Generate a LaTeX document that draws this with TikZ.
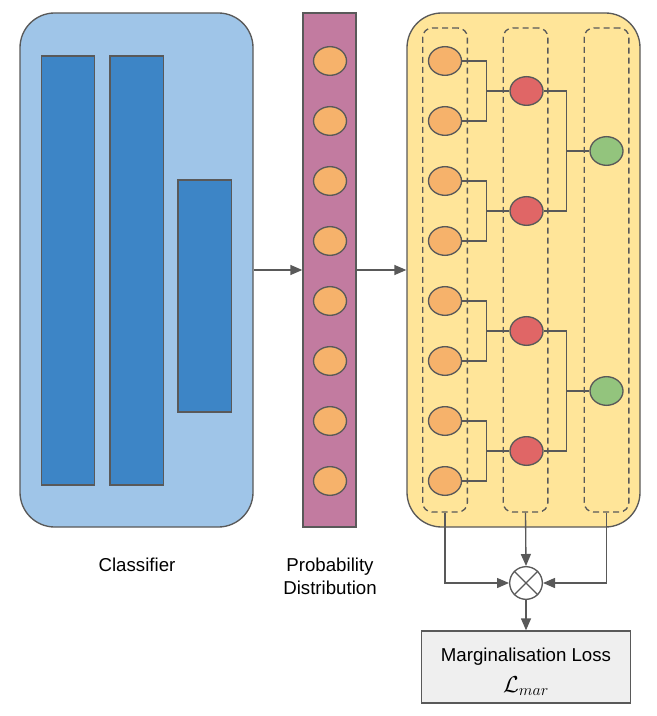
\documentclass[tikz,border=0pt]{standalone}
\usepackage[no-math]{fontspec}
\setmainfont{Liberation Sans}
\usetikzlibrary{shapes.geometric,arrows.meta,calc}
\definecolor{ln}{HTML}{595959}
\definecolor{lblue}{HTML}{9FC5E8}
\definecolor{dblue}{HTML}{3D85C6}
\definecolor{mag}{HTML}{C27BA0}
\definecolor{orng}{HTML}{F6B26B}
\definecolor{redc}{HTML}{E06666}
\definecolor{grnc}{HTML}{93C47D}
\definecolor{ylw}{HTML}{FFE599}
\definecolor{gry}{HTML}{EFEFEF}
\tikzset{
  box/.style={draw=ln, line width=1pt, rectangle, inner sep=0pt},
  bigbox/.style={box, rounded corners=26pt, minimum width=174.75pt, minimum height=385.5pt},
  bar/.style={box, fill=dblue, minimum width=40pt},
  dcol/.style={draw=ln, line width=1pt, dash pattern=on 4.5pt off 3pt, rounded corners=7pt, minimum width=33.5pt, minimum height=363pt, inner sep=0pt},
  ball/.style={ellipse, draw=ln, line width=1pt, minimum width=24.75pt, minimum height=21.5pt, inner sep=0pt},
  ob/.style={ball, fill=orng},
  rb/.style={ball, fill=redc},
  gb/.style={ball, fill=grnc},
  wire/.style={draw=ln, line width=1pt},
  arr/.style={wire, -{Triangle[length=9pt,width=7.5pt]}},
  lbl/.style={font=\fontsize{14}{17}\selectfont, align=center, inner sep=0pt},
}
\begin{document}
\begin{tikzpicture}[x=0.75pt,y=-0.75pt]
\useasboundingbox (0,0) rectangle (656,716);
% classifier
\node[bigbox, fill=lblue] (cls) at (136.5,270) {};
\node[bar, minimum height=321.75pt] (b1) at (68,270.5) {};
\node[bar, minimum height=321.75pt] (b2) at (136.5,270.5) {};
\node[bar, minimum height=174pt] (b3) at (204.5,296) {};
% probability
\node[box, fill=mag, minimum width=39.75pt, minimum height=385.5pt] (pd) at (329.5,270) {};
\foreach \i/\y in {1/61,2/121,3/181,4/241,5/301,6/361,7/421,8/481}
  \node[ob] (p\i) at (330,\y) {};
% yellow
\node[bigbox, fill=ylw] (yb) at (523.5,270) {};
\node[dcol] (c1) at (445,270) {};
\node[dcol] (c2) at (525.5,270) {};
\node[dcol] (c3) at (606.5,270) {};
\foreach \i/\y in {1/61,2/121,3/181,4/241,5/301,6/361,7/421,8/481}
  \node[ob] (o\i) at (445,\y) {};
\foreach \i/\y in {1/91,2/211,3/331,4/451}
  \node[rb] (r\i) at (526.5,\y) {};
\node[gb] (g1) at (606.5,151) {};
\node[gb] (g2) at (606.5,391) {};
% tree wires
\foreach \a/\b/\r in {1/2/1,3/4/2,5/6/3,7/8/4}{
  \draw[wire] (o\a.east) -- ++(24,0) |- (r\r.west);
  \draw[wire] (o\b.east) -- ++(24,0) |- (r\r.west);
}
\foreach \a/\b/\g in {1/2/1,3/4/2}{
  \draw[wire] (r\a.east) -- ++(23,0) |- (g\g.west);
  \draw[wire] (r\b.east) -- ++(23,0) |- (g\g.west);
}
% arrows between blocks
\draw[arr] (cls.east |- 0,270) -- (pd.west |- 0,270);
\draw[arr] (pd.east |- 0,270) -- (yb.west |- 0,270);
% product node
\node[circle, draw=ln, line width=1pt, fill=white, minimum size=24.5pt, inner sep=0pt] (x) at (526,583) {};
\draw[wire] (x.north west) -- (x.south east);
\draw[wire] (x.north east) -- (x.south west);
\draw[arr] (c1.south) |- (x.west);
\draw[arr] (c2.south) -- (x.north);
\draw[arr] (c3.south) |- (x.east);
% loss box
\node[box, fill=gry, minimum width=156.75pt, minimum height=54pt] (loss) at (526,667) {};
\node[lbl] (lt) at (526,657) {Marginalisation Loss};
\node[lbl, font=\fontsize{16.5}{19}\selectfont] (lm) at (526,686) {$\mathcal{L}_{mar}$};
\draw[arr] (x.south) -- (loss.north);
% labels
\node[lbl] (clsl) at (137,565) {Classifier};
\node[lbl] (pdl) at (330,576) {Probability\\Distribution};
\end{tikzpicture}
\end{document}
